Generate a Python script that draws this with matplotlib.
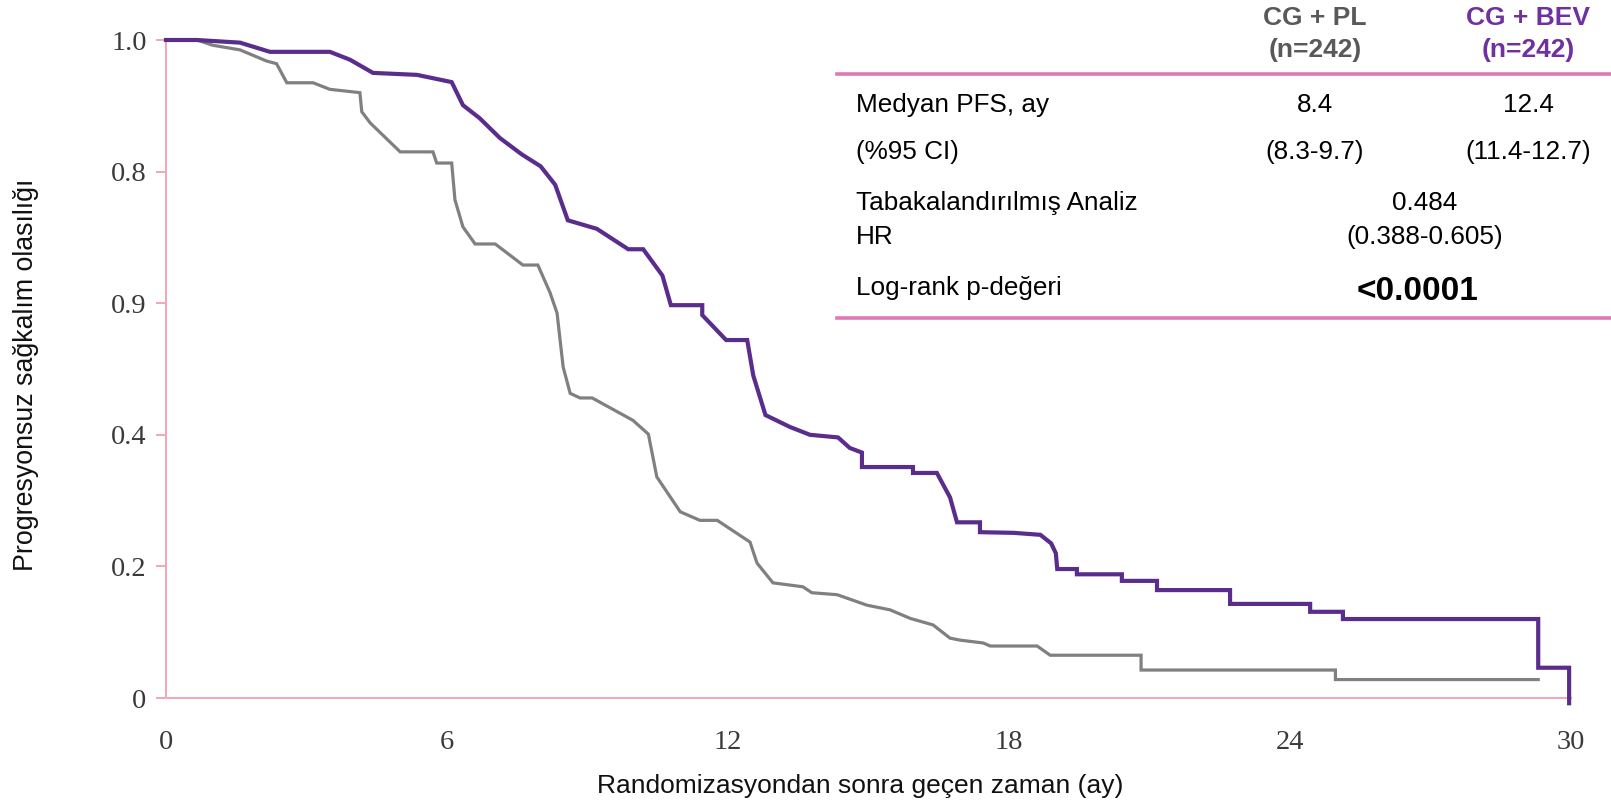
import matplotlib
matplotlib.use("Agg")
import matplotlib.pyplot as plt
from matplotlib.lines import Line2D

# ---------------- data ----------------
bev_months = [0, 0.66, 1.58, 2.22, 3.5, 3.93, 4.42, 5.36, 6.1, 6.34, 6.7, 7.13, 7.6, 8.0,
              8.31, 8.58, 9.2, 9.87, 10.19, 10.6, 10.78, 11.45, 11.45, 11.96, 12.41, 12.54,
              12.8, 13.32, 13.75, 14.35, 14.6, 14.86, 14.86, 15.95, 15.95, 16.46, 16.74,
              16.89, 17.38, 17.38, 18.1, 18.67, 18.9, 19.0, 19.03, 19.45, 19.45, 20.41,
              20.41, 21.16, 21.16, 22.72, 22.72, 24.43, 24.43, 25.13, 25.13, 29.3, 29.3,
              29.96, 29.96]
bev_surv = [1.0, 1.0, 0.996, 0.982, 0.982, 0.97, 0.95, 0.947, 0.936, 0.901, 0.881, 0.851,
            0.826, 0.808, 0.78, 0.726, 0.713, 0.682, 0.682, 0.642, 0.597, 0.597, 0.582,
            0.544, 0.544, 0.49, 0.43, 0.412, 0.40, 0.396, 0.38, 0.373, 0.351, 0.351, 0.342,
            0.342, 0.305, 0.267, 0.267, 0.252, 0.251, 0.248, 0.235, 0.22, 0.196, 0.196,
            0.188, 0.188, 0.178, 0.178, 0.164, 0.164, 0.143, 0.143, 0.131, 0.131, 0.12,
            0.12, 0.046, 0.046, -0.008]

pl_months = [0, 0.66, 1.0, 1.58, 2.15, 2.36, 2.58, 3.14, 3.5, 4.14, 4.18, 4.36, 5.0, 5.7,
             5.78, 6.1, 6.17, 6.34, 6.6, 7.03, 7.62, 7.94, 8.2, 8.35, 8.48, 8.63, 8.84, 9.1,
             9.97, 10.3, 10.48, 10.98, 11.4, 11.77, 12.47, 12.62, 12.96, 13.6, 13.79, 14.33,
             14.97, 15.46, 15.89, 16.38, 16.74, 16.95, 17.45, 17.6, 18.6, 18.88, 20.82,
             20.82, 24.97, 24.97, 29.3]
pl_surv = [1.0, 1.0, 0.992, 0.985, 0.968, 0.964, 0.935, 0.935, 0.925, 0.92, 0.891, 0.874,
           0.83, 0.83, 0.813, 0.813, 0.757, 0.716, 0.69, 0.69, 0.658, 0.658, 0.616, 0.585,
           0.503, 0.463, 0.456, 0.456, 0.422, 0.401, 0.336, 0.283, 0.27, 0.27, 0.237, 0.205,
           0.175, 0.169, 0.16, 0.157, 0.141, 0.134, 0.121, 0.111, 0.091, 0.088, 0.0836,
           0.079, 0.079, 0.065, 0.065, 0.0425, 0.0425, 0.028, 0.028]

x_ticks = [0, 6, 12, 18, 24, 30]
y_ticks = [0, 0.2, 0.4, 0.6, 0.8, 1.0]
y_tick_labels = ["0", "0.2", "0.4", "0.9", "0.8", "1.0"]

col_headers = ["CG + PL\n(n=242)", "CG + BEV\n(n=242)"]
row_labels = ["Medyan PFS, ay", "(%95 CI)", "Tabakalandırılmış Analiz\nHR", "Log-rank p-değeri"]
median_pfs = ["8.4", "12.4"]
ci_95 = ["(8.3-9.7)", "(11.4-12.7)"]
hr_text = "0.484\n(0.388-0.605)"
p_text = "<0.0001"

# ---------------- style ----------------
W, H = 1611, 806
PURPLE = "#5a2d8c"
GRAY = "#808080"
AXPINK = "#f2a7b5"
TABPINK = "#e07ab6"
HDR_PURPLE = "#7030a0"
HDR_GRAY = "#595959"
SANS = ["Liberation Sans", "DejaVu Sans"]
SERIF = ["Liberation Serif", "DejaVu Serif"]
BODY = 18.8


def fx(px):
    return px / W


def fy(py):
    return 1 - py / H


fig = plt.figure(figsize=(W / 100, H / 100), dpi=100)
ax = fig.add_axes([fx(166), fy(698), fx(1571) - fx(166), fy(40) - fy(698)])

ax.plot(pl_months, pl_surv, color=GRAY, lw=2.3, solid_joinstyle="miter", zorder=3)
ax.plot(bev_months, bev_surv, color=PURPLE, lw=3.0, solid_joinstyle="miter", zorder=4,
        clip_on=False)

ax.set_xlim(0, 30)
ax.set_ylim(0, 1.0)
for s in ["top", "right"]:
    ax.spines[s].set_visible(False)
for s in ["left", "bottom"]:
    ax.spines[s].set_color(AXPINK)
    ax.spines[s].set_linewidth(1.4)

ax.set_xticks(x_ticks)
ax.set_xticklabels([str(t) for t in x_ticks])
ax.set_xticks([0, 30], minor=True)
ax.tick_params(axis="x", which="major", length=0, pad=23, labelsize=20.5,
               labelcolor="#3a3a3a")
ax.tick_params(axis="x", which="minor", length=7, width=1.4, color=AXPINK)
ax.set_yticks(y_ticks)
ax.set_yticklabels(y_tick_labels)
ax.tick_params(axis="y", length=7, width=1.4, color=AXPINK, pad=7, labelsize=20.5,
               labelcolor="#3a3a3a")
for lab in ax.get_xticklabels() + ax.get_yticklabels():
    lab.set_family(SERIF)

fig.text(fx(26), fy(375), "Progresyonsuz sağkalım olasılığı", rotation=90,
         ha="center", va="center", fontsize=19.3, family=SANS, color="#111111")
fig.text(fx(860), fy(786), "Randomizasyondan sonra geçen zaman (ay)",
         ha="center", va="center", fontsize=19, family=SANS, color="#111111")

# ---------------- table ----------------
col_x = [1315, 1528]
mid_x = 1425
left_x = 856

for txt, cx, c in zip(col_headers, col_x, [HDR_GRAY, HDR_PURPLE]):
    fig.text(fx(cx), fy(34), txt, ha="center", va="center", fontsize=19,
             fontweight="bold", color=c, family=SANS, linespacing=1.4)

fig.add_artist(Line2D([fx(837), fx(1611)], [fy(74), fy(74)], color=TABPINK, lw=2.6))
fig.add_artist(Line2D([fx(837), fx(1611)], [fy(318), fy(318)], color=TABPINK, lw=2.6))

row_y = [105, 152, 220, 288]
for lab, yy in zip(row_labels, row_y):
    fig.text(fx(left_x), fy(yy), lab, ha="left", va="center", fontsize=BODY,
             family=SANS, color="#000000", linespacing=1.5)

for v, cx in zip(median_pfs, col_x):
    fig.text(fx(cx), fy(105), v, ha="center", va="center", fontsize=BODY, family=SANS)
for v, cx in zip(ci_95, col_x):
    fig.text(fx(cx), fy(152), v, ha="center", va="center", fontsize=BODY, family=SANS)
fig.text(fx(mid_x), fy(220), hr_text, ha="center", va="center", fontsize=BODY,
         family=SANS, linespacing=1.5)
fig.text(fx(1417), fy(292), p_text, ha="center", va="center", fontsize=24,
         fontweight="bold", family=SANS)

fig.savefig("out.png", dpi=100)
